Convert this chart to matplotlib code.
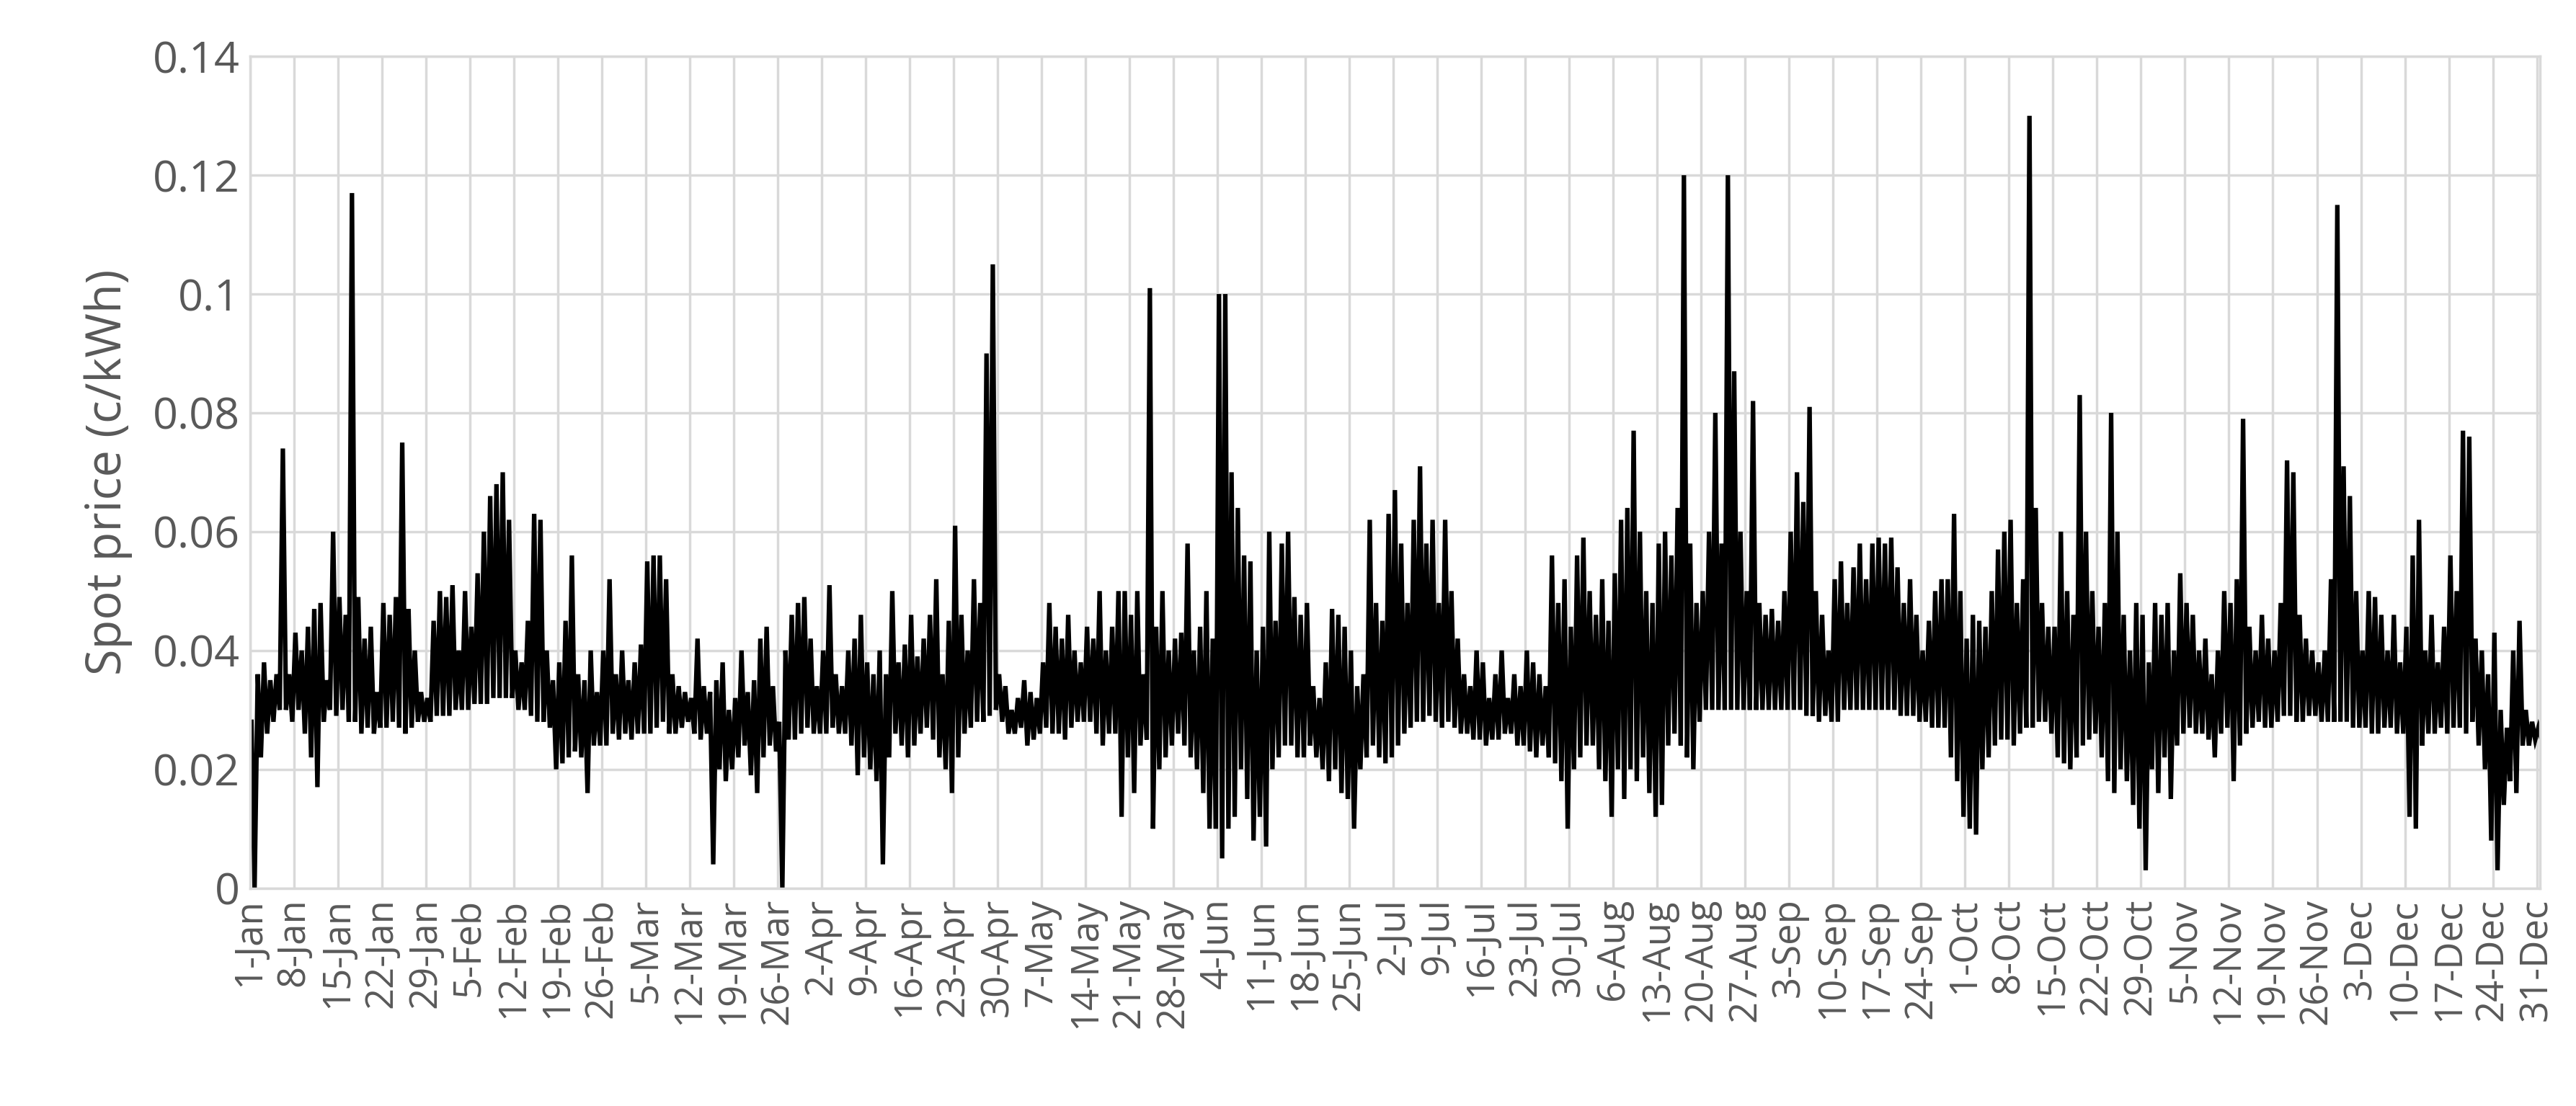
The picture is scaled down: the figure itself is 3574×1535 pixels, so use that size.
import matplotlib
matplotlib.use("Agg")
import matplotlib.pyplot as plt
import numpy as np
import datetime as dt

highs = [
.028,.036,.038,.035,.036,.074,.036,.043,.040,.044,
.047,.048,.035,.060,.049,.046,.117,.049,.042,.044,
.033,.048,.046,.049,.075,.047,.040,.033,.032,.045,
.050,.049,.051,.040,.050,.044,.053,.060,.066,.068,
.070,.062,.040,.038,.045,.063,.062,.040,.035,.038,
.045,.056,.036,.035,.040,.033,.040,.052,.036,.040,
.035,.038,.041,.055,.056,.056,.052,.036,.034,.033,
.032,.042,.034,.033,.035,.038,.030,.032,.040,.033,
.035,.042,.044,.034,.028,.040,.046,.048,.049,.042,
.034,.040,.051,.036,.034,.040,.042,.046,.038,.036,
.040,.036,.050,.038,.041,.046,.039,.042,.046,.052,
.036,.045,.061,.046,.040,.052,.048,.090,.105,.036,
.034,.030,.032,.035,.033,.032,.038,.048,.044,.042,
.046,.040,.038,.044,.042,.050,.040,.044,.050,.050,
.046,.050,.036,.101,.044,.050,.040,.042,.043,.058,
.040,.044,.050,.042,.100,.100,.070,.064,.056,.055,
.040,.044,.060,.045,.058,.060,.049,.046,.048,.034,
.032,.038,.047,.046,.044,.040,.034,.036,.062,.048,
.045,.063,.067,.058,.048,.062,.071,.058,.062,.048,
.062,.050,.042,.036,.034,.040,.038,.032,.036,.040,
.032,.036,.034,.040,.038,.036,.034,.056,.048,.052,
.044,.056,.059,.050,.046,.052,.045,.053,.062,.064,
.077,.060,.050,.048,.058,.060,.056,.064,.120,.058,
.048,.050,.060,.080,.058,.120,.087,.060,.050,.082,
.048,.046,.047,.045,.050,.060,.070,.065,.081,.050,
.046,.040,.052,.055,.048,.054,.058,.052,.058,.059,
.058,.059,.054,.048,.052,.046,.040,.045,.050,.052,
.052,.063,.050,.042,.046,.045,.044,.050,.057,.060,
.062,.048,.052,.130,.064,.048,.044,.044,.060,.050,
.046,.083,.060,.050,.044,.048,.080,.060,.046,.040,
.048,.046,.038,.048,.046,.048,.040,.053,.048,.046,
.040,.042,.036,.040,.050,.048,.052,.079,.044,.040,
.046,.042,.040,.048,.072,.070,.046,.042,.040,.038,
.040,.052,.115,.071,.066,.050,.040,.050,.049,.046,
.040,.046,.038,.044,.056,.062,.040,.046,.038,.044,
.056,.050,.077,.076,.042,.040,.036,.043,.030,.027,
.040,.045,.030,.028,.027]

lows = [
.000,.022,.026,.028,.030,.030,.028,.030,.026,.022,
.017,.028,.030,.029,.030,.028,.028,.026,.027,.026,
.027,.027,.028,.027,.026,.027,.028,.028,.028,.029,
.029,.029,.030,.030,.030,.031,.031,.031,.032,.032,
.032,.032,.030,.030,.029,.028,.028,.027,.020,.021,
.022,.023,.022,.016,.024,.024,.024,.026,.025,.026,
.025,.026,.026,.026,.027,.028,.026,.026,.027,.028,
.026,.025,.026,.004,.020,.018,.020,.022,.024,.019,
.016,.022,.024,.023,.000,.025,.025,.026,.027,.026,
.026,.026,.027,.026,.026,.024,.019,.022,.020,.018,
.004,.022,.026,.024,.022,.024,.026,.027,.025,.022,
.020,.016,.022,.026,.027,.028,.028,.029,.030,.028,
.026,.026,.027,.024,.025,.026,.027,.026,.026,.025,
.027,.028,.028,.028,.026,.024,.026,.026,.012,.022,
.016,.024,.025,.010,.020,.022,.024,.026,.024,.022,
.020,.016,.010,.010,.005,.010,.012,.020,.015,.008,
.012,.007,.020,.022,.024,.024,.022,.022,.024,.022,
.020,.018,.020,.016,.015,.010,.020,.022,.024,.022,
.021,.022,.024,.026,.027,.028,.028,.029,.028,.027,
.028,.027,.026,.026,.025,.025,.024,.025,.025,.026,
.026,.024,.024,.023,.022,.024,.022,.021,.018,.010,
.020,.022,.024,.024,.020,.018,.012,.020,.015,.020,
.018,.022,.016,.012,.014,.024,.026,.024,.022,.020,
.028,.030,.030,.030,.030,.030,.030,.030,.030,.030,
.030,.030,.030,.030,.030,.030,.030,.029,.029,.028,
.029,.028,.028,.030,.030,.030,.030,.030,.030,.030,
.030,.030,.029,.029,.029,.028,.028,.027,.027,.027,
.022,.018,.012,.010,.009,.020,.022,.024,.025,.025,
.024,.026,.027,.027,.028,.028,.026,.022,.021,.020,
.022,.024,.025,.026,.022,.018,.016,.020,.018,.014,
.010,.003,.020,.016,.022,.015,.024,.026,.027,.026,
.026,.025,.022,.026,.027,.018,.024,.026,.027,.028,
.027,.027,.028,.029,.029,.028,.028,.029,.029,.028,
.028,.028,.028,.028,.027,.027,.027,.026,.026,.027,
.027,.026,.026,.012,.010,.024,.026,.026,.027,.026,
.027,.027,.026,.028,.024,.020,.008,.003,.014,.018,
.016,.024,.024,.025,.025]

start = dt.date(2019, 1, 1)
tick_days = list(range(0, 365, 7))
tick_labels = [f"{(start+dt.timedelta(days=d)).day}-{(start+dt.timedelta(days=d)).strftime('%b')}" for d in tick_days]

n = min(len(highs), len(lows))
xs, ys = [], []
for d in range(n):
    xs += [d + 0.25, d + 0.75]
    ys += [highs[d], lows[d]]

plt.rcParams['font.family'] = ['Open Sans', 'DejaVu Sans']
fig = plt.figure(figsize=(35.74, 15.35), dpi=100)
ax = fig.add_axes([0.097, 0.197, 0.889, 0.752])
ax.plot(xs, ys, color='black', lw=4.5, solid_joinstyle='miter')
ax.set_xlim(0, 364.5)
ax.set_ylim(0, 0.14)
ax.set_yticks(np.arange(0, 0.1401, 0.02))
ax.set_yticklabels(['0', '0.02', '0.04', '0.06', '0.08', '0.1', '0.12', '0.14'])
ax.set_xticks(tick_days)
ax.set_xticklabels(tick_labels, rotation=90)
ax.grid(True, color='#d9d9d9', lw=2.5)
ax.set_axisbelow(True)
for s in ax.spines.values():
    s.set_color('#d9d9d9'); s.set_linewidth(2.5)
ax.tick_params(length=0, colors='#595959', pad=10)
ax.tick_params(axis='x', labelsize=38)
ax.tick_params(axis='y', labelsize=44)
ax.set_ylabel('Spot price (c/kWh)', fontsize=48, color='#595959', labelpad=20)
fig.savefig('out.png', dpi=100)
